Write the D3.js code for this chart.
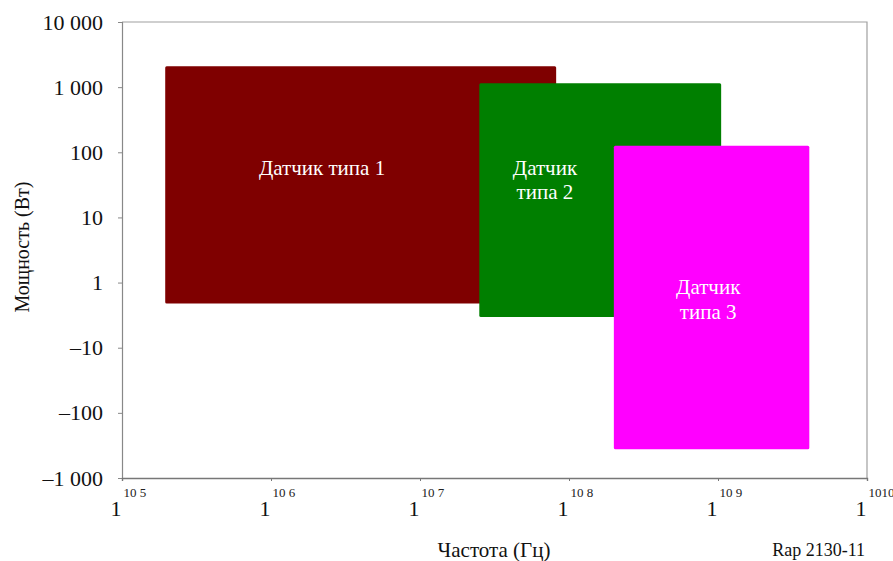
<!DOCTYPE html>
<html>
<head>
<meta charset="utf-8">
<script src="https://cdn.jsdelivr.net/npm/d3@7"></script>
<style>
  body { margin: 0; background: #fff; }
  text { font-family: "Liberation Serif", "Times New Roman", serif; }
</style>
</head>
<body>
<svg id="chart" width="893" height="561"></svg>
<script>
// power levels are in dB relative to 1 W, labels are what the chart prints
const yTickLevels = [40, 30, 20, 10, 0, -10, -20, -30];
const yTickLabels = ["10 000", "1 000", "100", "10", "1", "–10", "–100", "–1 000"];
const xTickExponents = [5, 6, 7, 8, 9, 10];

const sensorNames = ["Датчик типа 1", "Датчик типа 2", "Датчик типа 3"];
const sensorColors = ["#7f0000", "#007f00", "#ff00ff"];
const freqMin = [1.95e5, 2.5e7, 2e8];     // Hz
const freqMax = [8.2e7, 1.05e9, 4.1e9];
const powerMin = [-3.2, -5.3, -25.6];  // dB(W)
const powerMax = [33.2, 30.6, 21];
// where the name sits inside each block (freq, level of first line)
const labelFreq = [2.2e6, 6.9e7, 8.6e8];
const labelLevel = [17.6, 17.6, -0.7];
const labelLines = [["Датчик типа 1"], ["Датчик", "типа 2"], ["Датчик", "типа 3"]];

const svg = d3.select("#chart");
const margin = {left: 122, right: 26, top: 22, bottom: 83};
const width = 893 - margin.left - margin.right;
const height = 561 - margin.top - margin.bottom;

const x = d3.scaleLog().domain([1e5, 1e10]).range([margin.left, margin.left + width]);
const y = d3.scaleLinear().domain([-30, 40]).range([margin.top + height, margin.top]);

// frame (top and right), light grey
svg.append("path")
  .attr("d", `M${margin.left},${margin.top}H${margin.left + width}V${margin.top + height}`)
  .attr("fill", "none")
  .attr("stroke", "#a0a0a0")
  .attr("stroke-width", 1.2);

// blocks
const blocks = sensorNames.map((name, i) => ({
  name, color: sensorColors[i],
  f0: freqMin[i], f1: freqMax[i], p0: powerMin[i], p1: powerMax[i]
}));

svg.append("g").selectAll("rect")
  .data(blocks)
  .join("rect")
    .attr("x", d => x(d.f0))
    .attr("y", d => y(d.p1))
    .attr("width", d => x(d.f1) - x(d.f0))
    .attr("height", d => y(d.p0) - y(d.p1))
    .attr("rx", 1.5)
    .attr("fill", d => d.color);

// block names
labelLines.forEach((lines, i) => {
  const t = svg.append("text")
    .attr("x", x(labelFreq[i]))
    .attr("y", y(labelLevel[i]))
    .attr("text-anchor", "middle")
    .attr("fill", "#fff")
    .style("font-size", "21px");
  lines.forEach((ln, j) => {
    t.append("tspan")
      .attr("x", x(labelFreq[i]))
      .attr("dy", j === 0 ? "0.35em" : "1.15em")
      .text(ln);
  });
});

// y axis
const yAxis = d3.axisLeft(y)
  .tickValues(yTickLevels)
  .tickFormat((d, i) => yTickLabels[i])
  .tickSize(4)
  .tickPadding(15);

svg.append("g")
  .attr("transform", `translate(${margin.left},0)`)
  .call(yAxis)
  .call(g => g.select(".domain").attr("stroke", "#888").attr("stroke-width", 1.2))
  .call(g => g.selectAll(".tick line").attr("stroke", "#888"))
  .call(g => g.selectAll(".tick text")
    .attr("fill", "#111")
    .style("font-size", "22px")
    .style("font-family", "'Liberation Serif', serif"));

// x axis
const xAxis = d3.axisBottom(x)
  .tickValues(xTickExponents.map(e => Math.pow(10, e)))
  .tickFormat("")
  .tickSize(3);

const xg = svg.append("g")
  .attr("transform", `translate(0,${margin.top + height})`)
  .call(xAxis)
  .call(g => g.select(".domain").attr("stroke", "#777").attr("stroke-width", 1.4))
  .call(g => g.selectAll(".tick line").attr("stroke", "#777"));

// tick labels printed as "1" followed by a raised "10 n"
xg.selectAll(".tick").each(function(d, i) {
  const e = xTickExponents[i];
  const g = d3.select(this);
  g.append("text")
    .attr("x", -1)
    .attr("y", 38)
    .attr("text-anchor", "end")
    .attr("fill", "#111")
    .style("font-size", "22px")
    .text("1");
  g.append("text")
    .attr("x", 1)
    .attr("y", 19)
    .attr("text-anchor", "start")
    .attr("fill", "#222")
    .style("font-size", "13px")
    .text(e >= 10 ? "10" + e : "10 " + e);
});

// axis titles
svg.append("text")
  .attr("x", 494)
  .attr("y", 557)
  .attr("text-anchor", "middle")
  .attr("fill", "#111")
  .style("font-size", "21px")
  .text("Частота (Гц)");

svg.append("text")
  .attr("transform", "translate(29,247) rotate(-90)")
  .attr("text-anchor", "middle")
  .attr("fill", "#111")
  .style("font-size", "20px")
  .text("Мощность (Вт)");

svg.append("text")
  .attr("x", 865)
  .attr("y", 556)
  .attr("text-anchor", "end")
  .attr("fill", "#111")
  .style("font-size", "18px")
  .text("Rap 2130-11");
</script>
</body>
</html>
